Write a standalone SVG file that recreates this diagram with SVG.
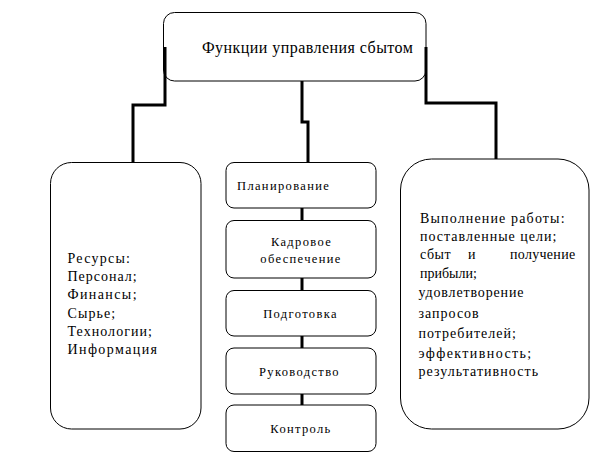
<svg xmlns="http://www.w3.org/2000/svg" width="600" height="475" viewBox="0 0 600 475">
<style>
.box{fill:#fff;stroke:#000;stroke-width:1}
.con{fill:none;stroke:#000;stroke-width:3}
.t14{font-size:14px}
.t16{font-size:16px;letter-spacing:0.45px}
.t12{font-size:12.5px;letter-spacing:1.35px}
.mid{text-anchor:middle}
</style>
<rect width="600" height="475" fill="#fff"/>
<g font-family="Liberation Serif, serif" fill="#000">
<g id="top">
<rect class="box" x="163.5" y="12.5" width="262.5" height="68.5" rx="11"/>
<text class="t16" x="202" y="52.5">Функции управления сбытом</text>
</g>
<g id="resources">
<rect class="box" x="50.5" y="162.5" width="150.5" height="266.5" rx="21"/>
<text class="t14" x="67.5" y="262.7" letter-spacing="1.25">Ресурсы:</text>
<text class="t14" x="67.5" y="281" letter-spacing="1">Персонал;</text>
<text class="t14" x="67.5" y="299.3" letter-spacing="1.4">Финансы;</text>
<text class="t14" x="67.5" y="317.6" letter-spacing="1.1">Сырье;</text>
<text class="t14" x="67.5" y="335.9" letter-spacing="1.05">Технологии;</text>
<text class="t14" x="67.5" y="354.2" letter-spacing="1.4">Информация</text>
</g>
<g id="planning">
<rect class="box" x="226" y="162.5" width="150" height="45.5" rx="8"/>
<text class="t12" x="237" y="190">Планирование</text>
</g>
<g id="staffing">
<rect class="box" x="226" y="220.5" width="150" height="57.5" rx="8"/>
<text class="t12 mid" x="301.5" y="245.5">Кадровое</text>
<text class="t12 mid" x="301" y="262.5">обеспечение</text>
</g>
<g id="training">
<rect class="box" x="226" y="290.5" width="150" height="45.5" rx="8"/>
<text class="t12 mid" x="300.5" y="318">Подготовка</text>
</g>
<g id="leadership">
<rect class="box" x="226" y="348" width="150" height="46" rx="8"/>
<text class="t12 mid" x="299.5" y="375.5">Руководство</text>
</g>
<g id="control">
<rect class="box" x="226" y="405" width="150" height="46.5" rx="8"/>
<text class="t12 mid" x="301" y="432.5">Контроль</text>
</g>
<g id="results">
<rect class="box" x="400.5" y="159" width="188.5" height="270" rx="31"/>
<text class="t14" x="420" y="222.7" letter-spacing="1.15">Выполнение работы:</text>
<text class="t14" x="420" y="241" letter-spacing="1">поставленные цели;</text>
<text class="t14" x="420" y="259.3" letter-spacing="0.5">сбыт</text>
<text class="t14" x="468" y="259.3">и</text>
<text class="t14" x="510" y="259.3" letter-spacing="0.3">получение</text>
<text class="t14" x="420" y="277.7">прибыли;</text>
<text class="t14" x="418.5" y="296.5" letter-spacing="0.85">удовлетворение</text>
<text class="t14" x="418.5" y="317.5" letter-spacing="1">запросов</text>
<text class="t14" x="418.5" y="338" letter-spacing="1">потребителей;</text>
<text class="t14" x="418.5" y="357.5" letter-spacing="1.4">эффективность;</text>
<text class="t14" x="418.5" y="376" letter-spacing="1.05">результативность</text>
</g>
</g>
<g id="connectors">
<path class="con" d="M165 47 V105 H133 V163"/>
<path class="con" d="M302 81 V122 H308 V163"/>
<path class="con" d="M426 47 V103 H496 V159"/>
<path class="con" d="M302 208 V220.5"/>
<path class="con" d="M302 278 V290.5"/>
<path class="con" d="M302 336 V348"/>
<path class="con" d="M302 394 V405"/>
</g>
</svg>
